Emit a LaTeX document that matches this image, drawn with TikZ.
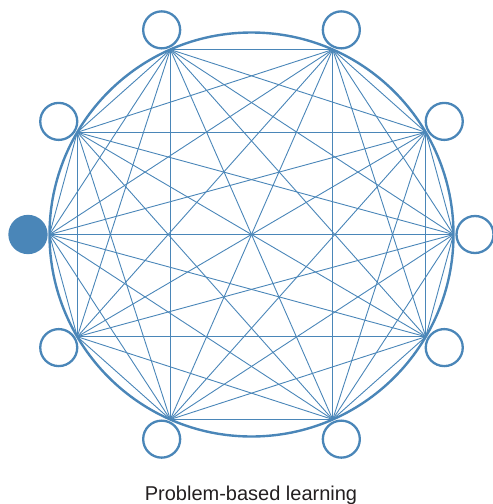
\documentclass[tikz,border=0pt]{standalone}
\usepackage{fontspec}
\setmainfont{Liberation Sans}
\usepackage{xcolor}

\definecolor{pblue}{RGB}{74,134,184}
\definecolor{capgray}{RGB}{35,31,32}

\begin{document}
\begin{tikzpicture}[x=1pt,y=-1pt,
    member/.style={circle,draw=pblue,line width=2.3pt,minimum size=37pt,inner sep=0pt},
    leader/.style={member,fill=pblue},
    link/.style={draw=pblue,line width=0.9pt}]
    \useasboundingbox (0,0) rectangle (493,504);
    \coordinate (c) at (251.5,234.5);
    \draw[pblue,line width=2.4pt] (c) circle (202);
    % points on the ring and the people beside them
    \foreach \a [count=\i] in {0,30.4,66.3,113.7,149.6,180,210.4,246.3,293.7,329.6}{
        \coordinate (v\i) at ([shift={(\a:202)}]c);
        \ifnum\i=6
            \node[leader] (m\i) at ([shift={(\a:223.5)}]c) {};
        \else
            \node[member] (m\i) at ([shift={(\a:223.5)}]c) {};
        \fi
    }
    % everyone talks to everyone
    \foreach \i in {1,...,10}{
    \foreach \j in {1,...,10}{
    \ifnum\i<\j \draw[link] (v\i) -- (v\j); \fi
    }}
    \node[anchor=base,text=capgray,font=\fontsize{20}{24}\selectfont] (title) at (251,500) {Problem-based learning};
\end{tikzpicture}
\end{document}
